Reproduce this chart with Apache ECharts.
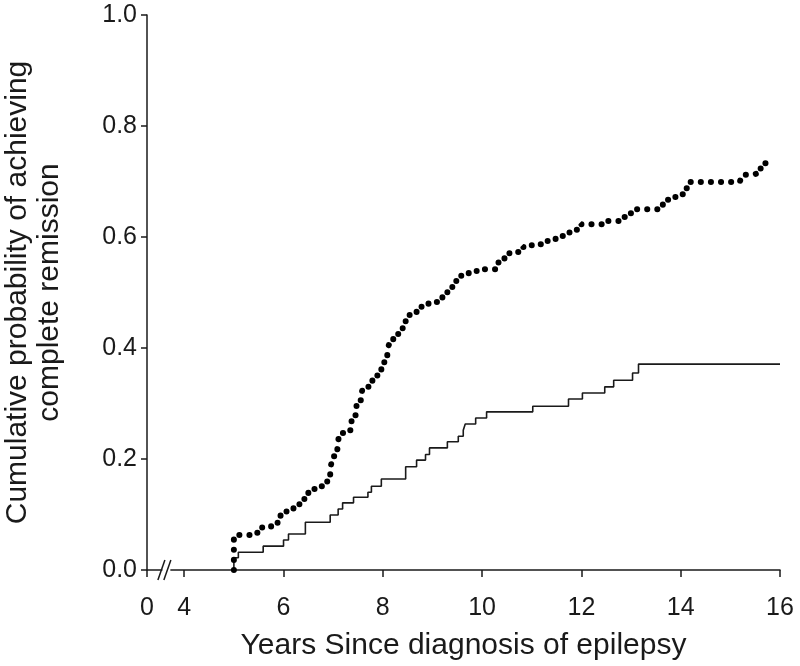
<!DOCTYPE html>
<html>
<head>
<meta charset="utf-8">
<script src="https://cdn.jsdelivr.net/npm/echarts@6/dist/echarts.min.js"></script>
<style>
  html, body { margin: 0; padding: 0; background: #fff; }
  #chart { width: 800px; height: 666px; }
</style>
</head>
<body>
<div id="chart"></div>
<script>
// x axis is broken: the "0" tick sits just left of the break, real scale runs 4..16
const zeroAt = 3.25
const xTicks = [zeroAt, 4, 6, 8, 10, 12, 14, 16]
const yTicks = [0, 0.2, 0.4, 0.6, 0.8, 1.0]
const breakAt = [3.54, 3.66]

// solid curve (Kaplan-Meier steps)
const solidX = [5.0, 5.0, 5.09, 5.59, 6.0, 6.10, 6.44, 6.94, 7.10, 7.19, 7.41, 7.70, 7.77, 7.97, 8.46, 8.68, 8.86, 8.94, 9.30, 9.52, 9.62, 9.66, 9.87, 10.09, 11.02, 11.74, 12.02, 12.47, 12.65, 13.03, 13.15, 16.0]
const solidY = [0, 0.022, 0.032, 0.043, 0.054, 0.065, 0.086, 0.099, 0.110, 0.121, 0.131, 0.140, 0.151, 0.164, 0.186, 0.198, 0.208, 0.220, 0.231, 0.241, 0.252, 0.263, 0.274, 0.285, 0.295, 0.308, 0.319, 0.330, 0.342, 0.355, 0.371, 0.371]

// dotted curve
const dottedX = [5.0, 5.0, 5.35, 5.57, 5.75, 5.88, 5.94, 6.06, 6.20, 6.32, 6.42, 6.50, 6.62, 6.76, 6.88, 6.94, 6.98, 7.08, 7.12, 7.25, 7.37, 7.47, 7.57, 7.59, 7.71, 7.79, 7.89, 7.97, 8.03, 8.09, 8.13, 8.21, 8.31, 8.40, 8.46, 8.54, 8.68, 8.78, 8.92, 9.12, 9.20, 9.30, 9.40, 9.48, 9.58, 9.73, 9.89, 10.27, 10.33, 10.45, 10.55, 10.71, 10.83, 11.00, 11.20, 11.32, 11.48, 11.62, 11.76, 11.90, 12.00, 12.39, 12.53, 12.73, 12.85, 12.97, 13.11, 13.50, 13.64, 13.72, 13.86, 14.00, 14.10, 14.18, 15.19, 15.23, 15.43, 15.53, 15.61, 15.90]
const dottedY = [0, 0.063, 0.067, 0.077, 0.081, 0.086, 0.101, 0.108, 0.112, 0.121, 0.130, 0.139, 0.146, 0.151, 0.160, 0.177, 0.205, 0.214, 0.247, 0.252, 0.279, 0.306, 0.314, 0.328, 0.339, 0.350, 0.359, 0.369, 0.384, 0.393, 0.409, 0.420, 0.429, 0.438, 0.454, 0.463, 0.468, 0.479, 0.483, 0.483, 0.492, 0.503, 0.512, 0.521, 0.533, 0.537, 0.542, 0.542, 0.555, 0.562, 0.573, 0.573, 0.582, 0.587, 0.587, 0.593, 0.598, 0.602, 0.609, 0.613, 0.623, 0.623, 0.629, 0.629, 0.636, 0.643, 0.650, 0.650, 0.659, 0.667, 0.672, 0.677, 0.688, 0.699, 0.699, 0.712, 0.714, 0.723, 0.733, 0.733]

const font = "'Liberation Sans', Arial, sans-serif"
const ink = '#1a1a1a'

const chart = echarts.init(document.getElementById('chart'), null, { renderer: 'canvas' })

const pairs = (xs, ys) => xs.map((x, i) => [x, ys[i]])

const option = {
  animation: false,
  backgroundColor: '#fff',
  grid: { left: 147, right: 20, top: 15, bottom: 96, outerBoundsMode: 'none' },
  xAxis: {
    type: 'value',
    min: zeroAt,
    max: 16,
    name: 'Years Since diagnosis of epilepsy',
    nameLocation: 'middle',
    nameGap: 61,
    nameTextStyle: { fontFamily: font, fontSize: 30, color: ink },
    axisLine: { onZero: false, lineStyle: { color: ink, width: 1.5 } },
    axisTick: { customValues: xTicks, length: 7, lineStyle: { color: ink, width: 1.5 } },
    axisLabel: {
      customValues: xTicks,
      margin: 26,
      fontFamily: font,
      fontSize: 25,
      color: ink,
      formatter: v => (v === zeroAt ? '0' : String(v))
    },
    splitLine: { show: false }
  },
  yAxis: {
    type: 'value',
    min: yTicks[0],
    max: yTicks[yTicks.length - 1],
    interval: 0.2,
    name: 'Cumulative probability of achieving\ncomplete remission',
    nameLocation: 'middle',
    nameRotate: 90,
    nameGap: 81,
    nameTextStyle: { fontFamily: font, fontSize: 30, color: ink, lineHeight: 32 },
    axisLine: { show: true, lineStyle: { color: ink, width: 1.5 } },
    axisTick: { show: true, length: 6, lineStyle: { color: ink, width: 1.5 } },
    axisLabel: {
      margin: 10,
      fontFamily: font,
      fontSize: 25,
      color: ink,
      formatter: v => v.toFixed(1)
    },
    splitLine: { show: false }
  },
  series: [
    {
      name: 'solid',
      type: 'line',
      step: 'end',
      showSymbol: false,
      data: pairs(solidX, solidY),
      lineStyle: { color: ink, width: 1.6 }
    },
    {
      name: 'dotted',
      type: 'line',
      step: 'end',
      showSymbol: false,
      data: pairs(dottedX, dottedY),
      lineStyle: { color: '#000', width: 6, type: [0.1, 10], cap: 'round' }
    },
    {
      // axis break marks "//"
      name: 'break',
      type: 'custom',
      clip: false,
      silent: true,
      data: [[breakAt[0], 0]],
      renderItem: (params, api) => {
        const a = api.coord([breakAt[0], 0])
        const b = api.coord([breakAt[1], 0])
        const h = 10
        const lean = 3.5
        return {
          type: 'group',
          children: [
            { type: 'rect', shape: { x: a[0] + 1, y: a[1] - 2, width: b[0] - a[0] + 2, height: 4 }, style: { fill: '#fff' } },
            { type: 'line', shape: { x1: a[0] - lean, y1: a[1] + h, x2: a[0] + lean, y2: a[1] - h }, style: { stroke: ink, lineWidth: 1.5 } },
            { type: 'line', shape: { x1: b[0] - lean, y1: b[1] + h, x2: b[0] + lean, y2: b[1] - h }, style: { stroke: ink, lineWidth: 1.5 } }
          ]
        }
      }
    }
  ]
}

chart.setOption(option)
</script>
</body>
</html>
